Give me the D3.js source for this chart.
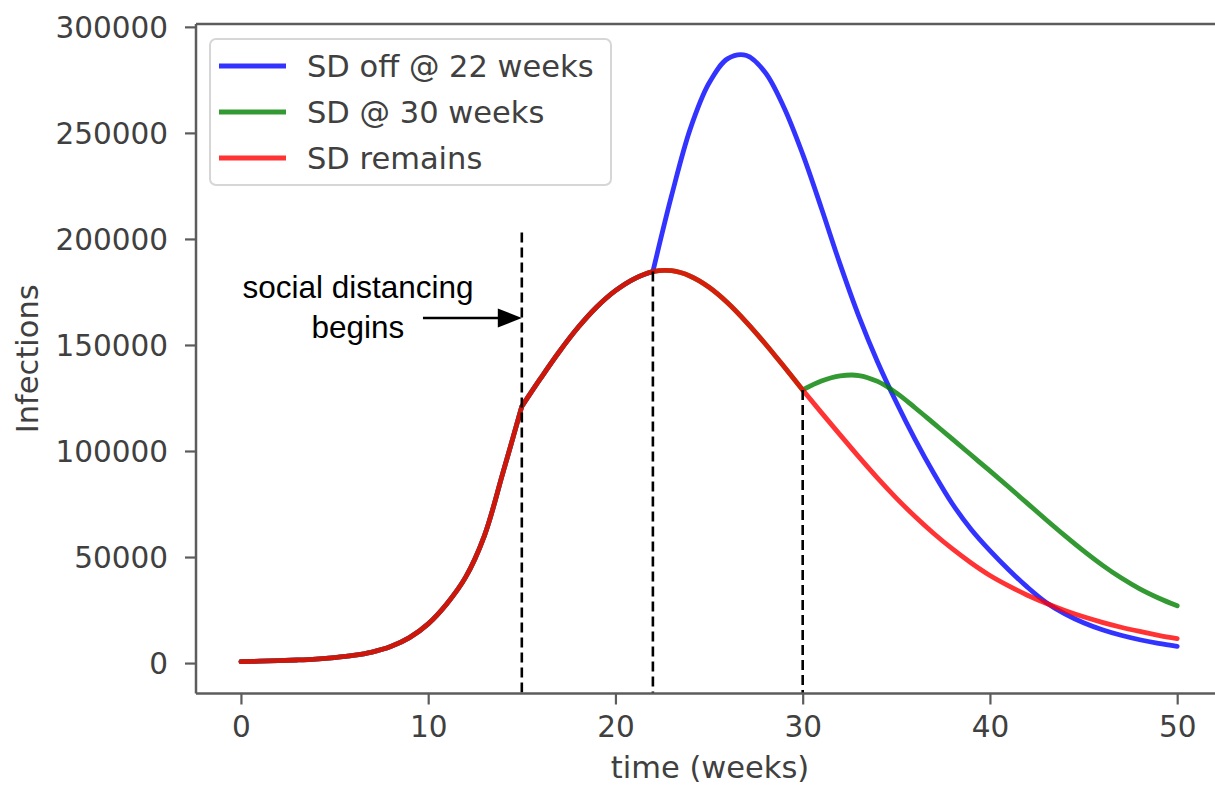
<!DOCTYPE html>
<html>
<head>
<meta charset="utf-8">
<script src="https://cdn.jsdelivr.net/npm/d3@7"></script>
<style>
  html, body { margin: 0; padding: 0; background: #ffffff; }
  svg { display: block; }
</style>
</head>
<body>
<svg id="chart" width="1215" height="786"></svg>
<script>
// Weekly samples of the epidemic curve, weeks 0..50
const weeks = [0, 1, 2, 3, 4, 5, 6, 7, 8, 9, 10, 11, 12, 13, 14, 15, 16, 17, 18, 19, 20,
  21, 22, 23, 24, 25, 26, 27, 28, 29, 30, 31, 32, 33, 34, 35, 36, 37, 38, 39, 40,
  41, 42, 43, 44, 45, 46, 47, 48, 49, 50];

// Social distancing kept in place for the whole run
const sdRemains = [700, 880, 1120, 1450, 1900, 2600, 3600, 5200, 7800, 12000, 18500,
  28000, 40500, 60000, 90000, 121000, 134200, 146800, 158200, 167900, 175600,
  181200, 184600, 185000, 182400, 177200, 169800, 160700, 150600, 139800, 128800,
  118100, 107600, 97200, 87200, 77800, 69100, 61100, 53800, 47200, 41300,
  36400, 32000, 28200, 24800, 21800, 19200, 16900, 14900, 13100, 11500];

// Social distancing lifted at week 22 (values from week 22 on)
const offWeek = 22;
const sdOff22 = [184600, 220500, 252000, 273500, 285000, 286500, 278500, 262000, 240000,
  214500, 188000, 163500, 142000, 123000, 105500, 89500, 75000, 63000, 53000,
  44000, 35800, 28600, 23200, 19000, 15700, 13100, 11000, 9300, 7900];

// Social distancing lifted at week 30 (values from week 30 on)
const laterWeek = 30;
const sd30 = [128800, 133000, 135400, 135600, 132800, 127400, 120400, 113000, 105600,
  98100, 90600, 83000, 75300, 67600, 60100, 52900, 46200, 40200, 35000, 30700, 27000];

// Start of social distancing
const startWeek = 15;

// Dashed markers: week and the infection count where each one stops
const markerWeeks = [15, 22, 30];
const markerTops = [203000, 184600, 128800];

const xTicks = [0, 10, 20, 30, 40, 50];
const yTicks = [0, 50000, 100000, 150000, 200000, 250000, 300000];

const seriesNames = ["SD off @ 22 weeks", "SD @ 30 weeks", "SD remains"];
const seriesColors = ["#0000ff", "#008000", "#ff0000"];

// Full curves: each scenario shares the history up to its branch week
const offFull = sdRemains.slice(0, offWeek).concat(sdOff22);
const laterFull = sdRemains.slice(0, laterWeek).concat(sd30);
const seriesValues = [offFull, laterFull, sdRemains];
const seriesBreaks = [[startWeek, offWeek], [startWeek, laterWeek], [startWeek]];

// ---- layout ----
const frame = { left: 196, right: 1224, top: 24, bottom: 693.5 };
const svg = d3.select("#chart");
svg.append("rect").attr("width", 1215).attr("height", 786).attr("fill", "#ffffff");

const x = d3.scaleLinear().domain([-2.4, 52.5]).range([frame.left, frame.right]);
const y = d3.scaleLinear().domain([-14350, 301350]).range([frame.bottom, frame.top]);

const axisFont = "'DejaVu Sans', 'Noto Sans', sans-serif";
const textGrey = "#404040";
const spineGrey = "#5c5c5c";

// ---- curves ----
// Each curve is split at the weeks where the model switches regime so the
// corners stay sharp; the pieces are joined into one path.
function piecewisePath(values, breaks) {
  const pts = weeks.map((w, i) => [w, values[i]]);
  const cuts = [weeks[0], ...breaks, weeks[weeks.length - 1]];
  const gen = d3.line()
    .x(d => x(d[0]))
    .y(d => y(d[1]))
    .curve(d3.curveCatmullRom.alpha(0.5));
  let d = "";
  for (let k = 0; k < cuts.length - 1; k++) {
    const seg = pts.filter(p => p[0] >= cuts[k] && p[0] <= cuts[k + 1]);
    d += gen(seg);
  }
  return d;
}

const lines = svg.append("g");
seriesValues.forEach((vals, i) => {
  lines.append("path")
    .attr("d", piecewisePath(vals, seriesBreaks[i]))
    .attr("fill", "none")
    .attr("stroke", seriesColors[i])
    .attr("stroke-opacity", 0.8)
    .attr("stroke-width", 4.8)
    .attr("stroke-linejoin", "round")
    .attr("stroke-linecap", "round");
});

// ---- dashed week markers ----
svg.append("g").selectAll("line")
  .data(markerWeeks)
  .join("line")
  .attr("x1", d => x(d))
  .attr("x2", d => x(d))
  .attr("y1", (d, i) => y(markerTops[i]))
  .attr("y2", y.range()[0])
  .attr("stroke", "#000")
  .attr("stroke-width", 2.6)
  .attr("stroke-dasharray", "10,5");

// ---- spines ----
const spines = svg.append("g").attr("stroke", spineGrey).attr("stroke-width", 2.5).attr("fill", "none");
spines.append("line").attr("x1", frame.left).attr("x2", frame.left).attr("y1", frame.top).attr("y2", frame.bottom);
spines.append("line").attr("x1", frame.left).attr("x2", frame.right).attr("y1", frame.top).attr("y2", frame.top);
spines.append("line").attr("x1", frame.left).attr("x2", frame.right).attr("y1", frame.bottom).attr("y2", frame.bottom);

// ---- axes ----
const yAxis = svg.append("g")
  .attr("transform", `translate(${frame.left},0)`)
  .call(d3.axisLeft(y).tickValues(yTicks).tickFormat(d => String(d)).tickSize(11).tickPadding(17));
const xAxis = svg.append("g")
  .attr("transform", `translate(0,${frame.bottom})`)
  .call(d3.axisBottom(x).tickValues(xTicks).tickFormat(d => String(d)).tickSize(11).tickPadding(12));

[yAxis, xAxis].forEach(g => {
  g.select(".domain").remove();
  g.selectAll(".tick line").attr("stroke", spineGrey).attr("stroke-width", 2.2);
  g.selectAll(".tick text")
    .attr("fill", textGrey)
    .style("font-family", axisFont)
    .style("font-size", "29.5px");
});
yAxis.selectAll(".tick text").attr("dy", "0.36em");

// axis titles
svg.append("text")
  .attr("x", (frame.left + frame.right) / 2)
  .attr("y", 778)
  .attr("text-anchor", "middle")
  .attr("fill", textGrey)
  .style("font-family", axisFont)
  .style("font-size", "30.5px")
  .text("time (weeks)");

svg.append("text")
  .attr("transform", `translate(38,${(frame.top + frame.bottom) / 2}) rotate(-90)`)
  .attr("text-anchor", "middle")
  .attr("fill", textGrey)
  .style("font-family", axisFont)
  .style("font-size", "30.5px")
  .text("Infections");

// ---- legend ----
const legend = svg.append("g").attr("transform", "translate(210,39)");
legend.append("rect")
  .attr("width", 401).attr("height", 146)
  .attr("rx", 6).attr("ry", 6)
  .attr("fill", "#ffffff").attr("fill-opacity", 0.8)
  .attr("stroke", "#d6d6d6").attr("stroke-width", 2);
seriesNames.forEach((name, i) => {
  const ly = 27 + i * 46;
  legend.append("line")
    .attr("x1", 9).attr("x2", 76).attr("y1", ly).attr("y2", ly)
    .attr("stroke", seriesColors[i]).attr("stroke-opacity", 0.8)
    .attr("stroke-width", 4.8);
  legend.append("text")
    .attr("x", 97).attr("y", ly + 11)
    .attr("fill", textGrey)
    .style("font-family", axisFont)
    .style("font-size", "30.5px")
    .text(name);
});

// ---- annotation: start of social distancing ----
const noteWeek = 6.25;       // centre of the note text
const arrowFromWeek = 9.72;  // tail of the arrow
const arrowLevel = 162700;   // infections level the arrow sits at
const ay = y(arrowLevel);
const tipX = x(startWeek);
const headLen = 24, headHalf = 9.5;

svg.append("line")
  .attr("x1", x(arrowFromWeek)).attr("x2", tipX - headLen + 2)
  .attr("y1", ay).attr("y2", ay)
  .attr("stroke", "#000").attr("stroke-width", 2.6);
svg.append("path")
  .attr("d", `M${tipX},${ay} L${tipX - headLen},${ay - headHalf} L${tipX - headLen},${ay + headHalf} Z`)
  .attr("fill", "#000");

const note = svg.append("text")
  .attr("text-anchor", "middle")
  .attr("fill", "#000")
  .style("font-family", "'Liberation Sans', Arial, Helvetica, sans-serif")
  .style("font-size", "31.5px");
note.append("tspan").attr("x", x(noteWeek)).attr("y", ay - 20).text("social distancing");
note.append("tspan").attr("x", x(noteWeek)).attr("y", ay + 20).text("begins");
</script>
</body>
</html>
